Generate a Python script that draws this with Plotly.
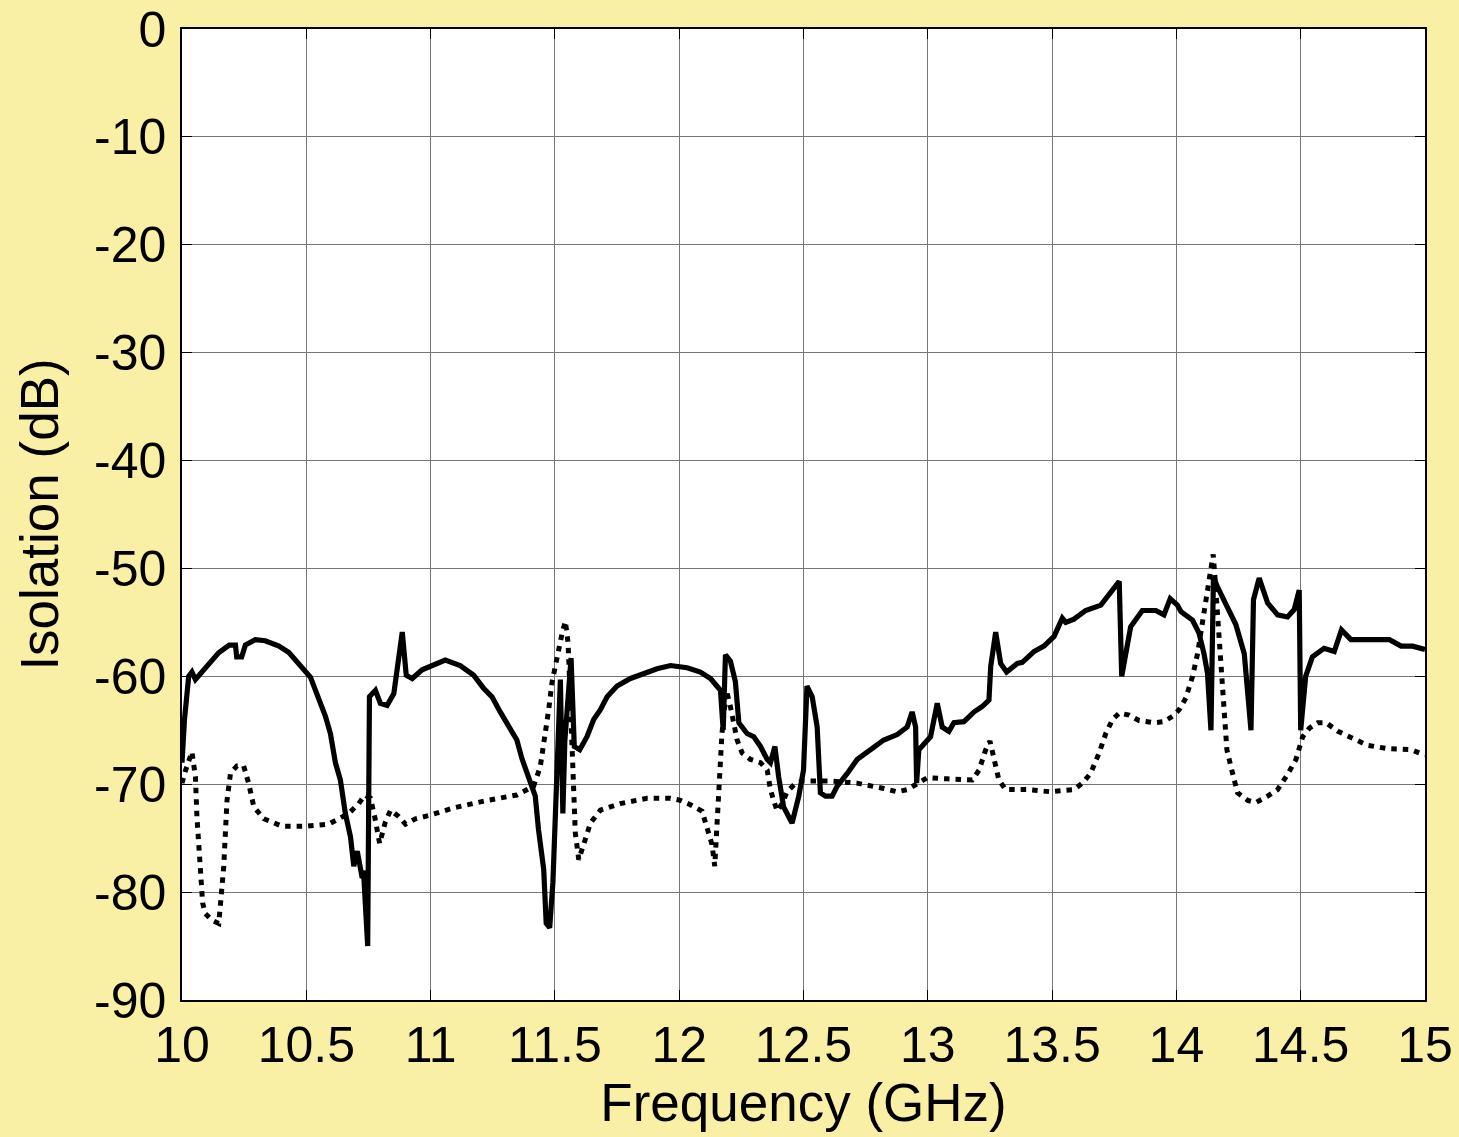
import plotly.graph_objects as go

# Solid trace (frequency GHz, isolation dB)
solid_f = [10.000, 10.010, 10.027, 10.040, 10.054, 10.094, 10.148, 10.190, 10.215, 10.220, 10.240, 10.255,
           10.295, 10.335, 10.390, 10.430, 10.470, 10.517, 10.537, 10.577, 10.597, 10.617, 10.637, 10.657,
           10.678, 10.691, 10.705, 10.725, 10.730, 10.747, 10.754, 10.778, 10.798, 10.825, 10.852, 10.886,
           10.902, 10.926, 10.966, 11.006, 11.059, 11.119, 11.173, 11.213, 11.247, 11.280, 11.320, 11.347,
           11.367, 11.400, 11.421, 11.434, 11.455, 11.465, 11.479, 11.492, 11.508, 11.522, 11.532, 11.540,
           11.565, 11.578, 11.600, 11.629, 11.656, 11.683, 11.710, 11.750, 11.804, 11.857, 11.911, 11.965,
           12.032, 12.085, 12.126, 12.166, 12.177, 12.186, 12.206, 12.226, 12.240, 12.273, 12.300, 12.327,
           12.354, 12.367, 12.385, 12.400, 12.420, 12.454, 12.481, 12.500, 12.514, 12.535, 12.555, 12.568,
           12.589, 12.615, 12.635, 12.676, 12.716, 12.770, 12.823, 12.877, 12.917, 12.937, 12.951, 12.955,
           12.964, 13.011, 13.038, 13.058, 13.085, 13.105, 13.145, 13.186, 13.219, 13.246, 13.253, 13.273,
           13.293, 13.317, 13.360, 13.380, 13.427, 13.467, 13.508, 13.541, 13.555, 13.588, 13.635, 13.696,
           13.736, 13.770, 13.780, 13.796, 13.816, 13.863, 13.917, 13.950, 13.975, 14.004, 14.018, 14.065,
           14.091, 14.111, 14.125, 14.139, 14.149, 14.165, 14.206, 14.239, 14.273, 14.300, 14.310, 14.333,
           14.367, 14.407, 14.447, 14.474, 14.494, 14.500, 14.520, 14.547, 14.594, 14.635, 14.664, 14.702,
           14.783, 14.857, 14.904, 14.950, 15.000]
solid_db = [-68.0, -64.0, -60.0, -59.6, -60.3, -59.2, -57.8, -57.1, -57.1, -58.2, -58.2, -57.1,
            -56.6, -56.7, -57.2, -57.8, -58.9, -60.1, -61.3, -63.7, -65.3, -68.0, -69.6, -72.7,
            -74.9, -77.6, -76.2, -78.7, -78.0, -85.0, -61.9, -61.3, -62.5, -62.7, -61.6, -55.9,
            -59.9, -60.2, -59.4, -59.0, -58.5, -59.0, -59.9, -61.1, -61.9, -63.3, -65.0, -65.9,
            -67.6, -69.6, -71.1, -74.2, -77.9, -82.9, -83.3, -79.1, -69.9, -60.3, -72.7, -66.0,
            -58.3, -66.5, -66.8, -65.6, -64.0, -63.1, -61.9, -60.9, -60.2, -59.7, -59.3, -59.0,
            -59.2, -59.6, -60.2, -61.3, -65.0, -58.0, -58.6, -60.5, -64.3, -65.3, -65.6, -66.5,
            -67.7, -68.0, -66.5, -69.3, -72.1, -73.6, -71.1, -68.7, -60.9, -61.9, -64.7, -70.8,
            -71.1, -71.1, -70.2, -69.0, -67.7, -66.8, -65.9, -65.4, -64.7, -63.3, -64.7, -69.9,
            -66.8, -65.6, -62.5, -64.7, -65.1, -64.3, -64.2, -63.3, -62.8, -62.2, -59.1, -55.9,
            -58.8, -59.6, -58.8, -58.7, -57.7, -57.2, -56.3, -54.6, -55.0, -54.7, -53.9, -53.4,
            -52.3, -51.2, -60.0, -57.9, -55.4, -53.9, -53.9, -54.3, -52.8, -53.4, -54.0, -54.8,
            -56.0, -57.9, -59.7, -65.0, -50.8, -51.7, -53.5, -55.2, -57.9, -65.0, -52.9, -50.9,
            -53.2, -54.3, -54.5, -53.8, -52.0, -65.0, -60.0, -58.2, -57.4, -57.7, -55.7, -56.6,
            -56.6, -56.6, -57.2, -57.2, -57.5]

# Dotted trace (frequency GHz, isolation dB)
dot_f = [10.000, 10.013, 10.040, 10.054, 10.060, 10.074, 10.083, 10.094, 10.120, 10.148, 10.158, 10.168,
         10.181, 10.195, 10.221, 10.248, 10.268, 10.289, 10.329, 10.403, 10.497, 10.590, 10.671, 10.711,
         10.735, 10.758, 10.775, 10.795, 10.818, 10.839, 10.872, 10.899, 10.939, 10.993, 11.092, 11.227,
         11.347, 11.414, 11.441, 11.461, 11.475, 11.488, 11.508, 11.529, 11.542, 11.553, 11.562, 11.573,
         11.582, 11.596, 11.616, 11.643, 11.683, 11.763, 11.871, 11.965, 12.005, 12.045, 12.092, 12.106,
         12.119, 12.132, 12.143, 12.150, 12.163, 12.172, 12.190, 12.206, 12.233, 12.253, 12.287, 12.327,
         12.354, 12.367, 12.380, 12.394, 12.414, 12.434, 12.468, 12.500, 12.607, 12.716, 12.823, 12.877,
         12.917, 12.957, 12.998, 13.078, 13.179, 13.206, 13.233, 13.250, 13.266, 13.286, 13.313, 13.400,
         13.494, 13.588, 13.622, 13.655, 13.689, 13.716, 13.743, 13.770, 13.810, 13.850, 13.910, 13.950,
         13.984, 14.011, 14.038, 14.065, 14.085, 14.105, 14.118, 14.132, 14.148, 14.156, 14.168, 14.179,
         14.190, 14.203, 14.226, 14.246, 14.287, 14.320, 14.367, 14.407, 14.447, 14.481, 14.508, 14.535,
         14.569, 14.602, 14.650, 14.702, 14.770, 14.850, 14.944, 15.000]
dot_db = [-69.9, -68.8, -67.0, -69.3, -73.0, -77.6, -81.0, -82.0, -82.6, -82.9, -80.7, -77.6,
          -71.5, -69.0, -68.3, -68.3, -69.9, -72.1, -73.2, -73.9, -73.9, -73.7, -72.7, -71.8,
          -71.0, -71.3, -73.0, -75.5, -73.5, -72.4, -73.0, -73.7, -73.2, -72.9, -72.2, -71.5,
          -71.0, -70.2, -68.4, -65.6, -63.1, -60.6, -58.2, -56.0, -54.9, -56.9, -62.2, -68.4,
          -74.5, -77.0, -75.5, -73.6, -72.4, -71.8, -71.3, -71.3, -71.5, -71.9, -72.5, -73.6,
          -74.9, -75.6, -77.6, -75.0, -69.9, -65.3, -61.3, -62.8, -65.9, -67.1, -67.7, -68.0,
          -68.7, -70.5, -71.5, -72.5, -71.8, -70.7, -69.9, -69.7, -69.7, -69.9, -70.4, -70.7,
          -70.5, -70.0, -69.4, -69.5, -69.6, -68.7, -66.8, -66.0, -67.4, -69.6, -70.5, -70.5,
          -70.7, -70.5, -69.9, -69.0, -67.1, -65.3, -64.0, -63.4, -63.6, -64.1, -64.3, -64.2,
          -63.7, -63.1, -62.0, -60.0, -57.9, -54.8, -52.6, -50.5, -48.7, -51.1, -55.1, -59.4,
          -63.7, -66.8, -69.0, -70.8, -71.5, -71.7, -71.1, -70.5, -69.1, -67.7, -65.6, -64.8,
          -64.3, -64.3, -65.1, -65.7, -66.4, -66.7, -66.8, -67.3]

x_ticks = [10, 10.5, 11, 11.5, 12, 12.5, 13, 13.5, 14, 14.5, 15]
x_labels = ["10", "10.5", "11", "11.5", "12", "12.5", "13", "13.5", "14", "14.5", "15"]
y_ticks = [0, -10, -20, -30, -40, -50, -60, -70, -80, -90]
y_labels = ["0", "-10", "-20", "-30", "-40", "-50", "-60", "-70", "-80", "-90"]

FONT = "Liberation Sans, Arial, sans-serif"

fig = go.Figure()
fig.add_trace(go.Scatter(x=dot_f, y=dot_db, mode="lines",
                         line=dict(color="black", width=5, dash="5.5px,6px"), showlegend=False))
fig.add_trace(go.Scatter(x=solid_f, y=solid_db, mode="lines",
                         line=dict(color="black", width=5.2), showlegend=False))

fig.update_layout(
    width=1459, height=1137,
    margin=dict(l=182, r=34, t=29, b=137, autoexpand=False),
    paper_bgcolor="#F9F0A6",
    plot_bgcolor="white",
    font=dict(family=FONT, color="black", size=50),
    xaxis=dict(range=[10, 15], tickvals=x_ticks, ticktext=x_labels, automargin=False,
               showgrid=True, gridcolor="#767676", gridwidth=1.4,
               showline=True, linecolor="black", linewidth=1.5, mirror="ticks",
               ticks="inside", ticklen=10, tickcolor="black",
               tickfont=dict(size=50), zeroline=False,
               title=dict(text="Frequency (GHz)", font=dict(size=53), standoff=12)),
    yaxis=dict(range=[-90, 0], tickvals=y_ticks, ticktext=y_labels, automargin=False,
               showgrid=True, gridcolor="#767676", gridwidth=1.4,
               showline=True, linecolor="black", linewidth=1.5, mirror="ticks",
               ticks="inside", ticklen=10, tickcolor="black", ticklabelstandoff=4,
               tickfont=dict(size=50), zeroline=False,
               title=dict(text="Isolation (dB)", font=dict(size=53), standoff=18)),
)

fig.write_html("out.html")
